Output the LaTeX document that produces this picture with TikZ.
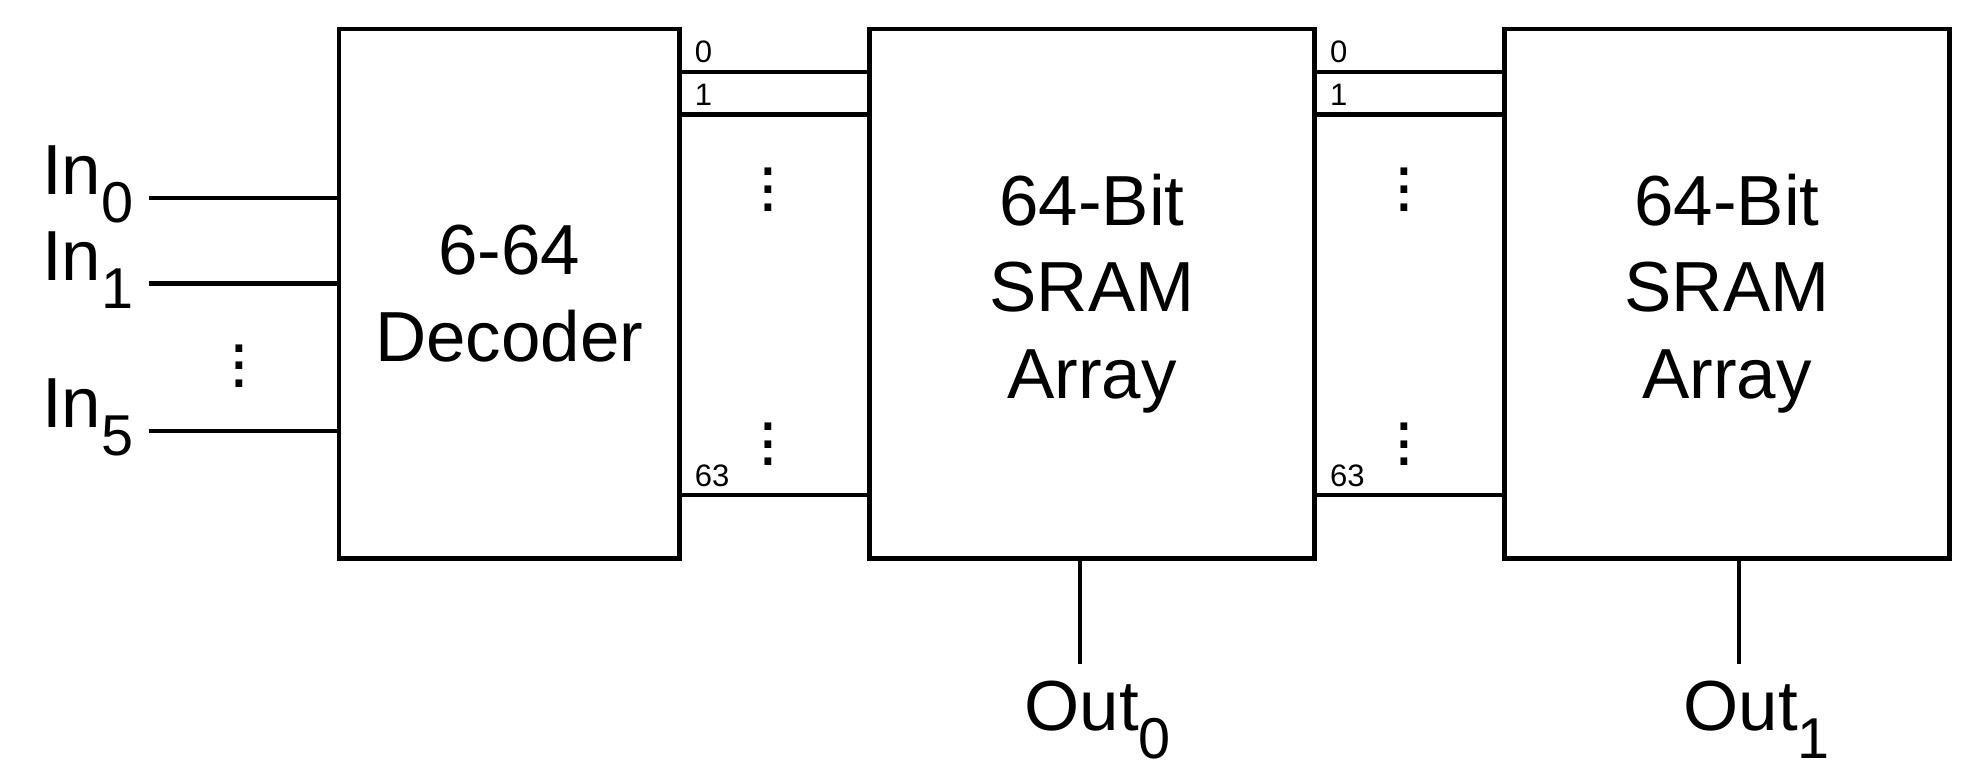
\documentclass[tikz,border=0pt]{standalone}
\usepackage{fontspec}
\setmainfont{Liberation Sans}
\newcommand{\lowsub}[1]{\raisebox{-0.4em}{\fontsize{13}{13}\selectfont #1}}
\begin{document}
\begin{tikzpicture}[x=0.01cm,y=-0.01cm,line width=1pt,
  blk/.style={draw,minimum height=4.2cm,align=center,font=\fontsize{16}{19.5}\selectfont},
  lbl/.style={font=\fontsize{16}{18}\selectfont},
  bit/.style={font=\fontsize{7}{8}\selectfont,inner sep=0pt,anchor=south west},
  vdots/.style={font=\fontsize{16}{18}\selectfont,inner sep=0pt}]
\useasboundingbox (0,0) rectangle (1568,612);
% blocks
\node[blk,minimum width=2.7cm] (dec) at (404,233) {6-64\\Decoder};
\node[blk,minimum width=3.53cm] (sramA) at (866.5,233) {64-Bit\\SRAM\\Array};
\node[blk,minimum width=3.53cm] (sramB) at (1370.5,233) {64-Bit\\SRAM\\Array};

% inputs
\foreach \i/\y in {0/157,1/225,5/342}{
  \coordinate (in\i) at (118,\y);
  \draw (in\i) -- (in\i -| dec.west);
  \node[lbl,anchor=east,inner sep=1pt] at ([xshift=-2pt,yshift=3pt]in\i) {In\lowsub{\i}};
}
\node[vdots] at (190,280) {$\vdots$};

% word lines
\foreach \a/\b/\s in {dec/sramA/A,sramA/sramB/B}{
  \foreach \k/\y in {0/57,1/91,63/393}{
    \coordinate (w\s\k) at (0,\y);
    \draw (w\s\k -| \a.east) -- (w\s\k -| \b.west);
    \node[bit] at ([xshift=2.5pt,yshift=1.5pt]w\s\k -| \a.east) {\k};
  }
  \path (\a.east) -- (\b.west) coordinate[pos=0.47] (m\s);
  \node[vdots] at (m\s |- 0,140) {$\vdots$};
  \node[vdots] at (m\s |- 0,342) {$\vdots$};
}

% outputs
\foreach \s/\n/\x in {sramA/0/857,sramB/1/1380}{
  \coordinate (top\n) at (\x,443);
  \coordinate (out\n) at (\x,527);
  \draw (top\n) -- (out\n);
  \node[lbl,anchor=north] at ([xshift=4pt,yshift=0pt]out\n) {Out\lowsub{\n}};
}
\end{tikzpicture}
\end{document}
